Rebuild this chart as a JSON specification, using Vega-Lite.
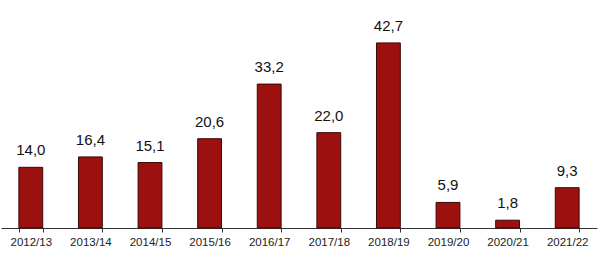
{
  "$schema": "https://vega.github.io/schema/vega-lite/v6.json",
  "width": 596,
  "height": 228,
  "autosize": "none",
  "padding": {"left": 1, "top": 0, "right": 2, "bottom": 34},
  "background": "white",
  "config": {
    "view": {"stroke": null},
    "font": "Liberation Sans",
    "locale": {"number": {"decimal": ",", "thousands": ".", "grouping": [3], "currency": ["", " €"]}}
  },
  "data": {
    "values": [
      {"year": "2012/13", "value": 14.0},
      {"year": "2013/14", "value": 16.4},
      {"year": "2014/15", "value": 15.1},
      {"year": "2015/16", "value": 20.6},
      {"year": "2016/17", "value": 33.2},
      {"year": "2017/18", "value": 22.0},
      {"year": "2018/19", "value": 42.7},
      {"year": "2019/20", "value": 5.9},
      {"year": "2020/21", "value": 1.8},
      {"year": "2021/22", "value": 9.3}
    ]
  },
  "encoding": {
    "x": {
      "field": "year",
      "type": "nominal",
      "sort": null,
      "scale": {"paddingInner": 0.6, "paddingOuter": 0.3},
      "axis": {
        "title": null,
        "labelAngle": 0,
        "labelFont": "Liberation Sans",
        "labelFontSize": 11.5,
        "labelColor": "#222222",
        "labelPadding": 4,
        "domainColor": "#333333",
        "domainWidth": 1,
        "tickColor": "#333333",
        "tickSize": 4,
        "tickBand": "extent",
        "grid": false
      }
    },
    "y": {
      "field": "value",
      "type": "quantitative",
      "scale": {"domain": [0, 52.6], "nice": false, "zero": true},
      "axis": null
    }
  },
  "layer": [
    {
      "mark": {"type": "bar", "color": "#9c1010", "stroke": "#3a0808", "strokeWidth": 1}
    },
    {
      "mark": {"type": "text", "baseline": "bottom", "dy": -9, "fontSize": 15, "font": "Liberation Sans", "color": "#111111"},
      "encoding": {
        "text": {"field": "value", "type": "quantitative", "format": ".1f"}
      }
    }
  ]
}
